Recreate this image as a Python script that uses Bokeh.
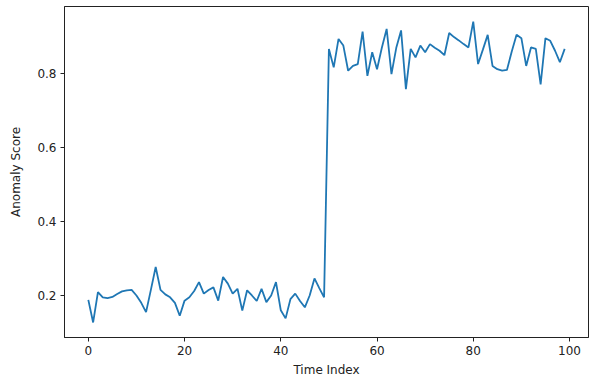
from bokeh.plotting import figure
from bokeh.models import Range1d, FixedTicker
from bokeh.embed import file_html
from bokeh.resources import INLINE

low_scores = [0.188, 0.127, 0.209, 0.195, 0.193, 0.196, 0.204, 0.211, 0.214, 0.215,
              0.200, 0.180, 0.155, 0.215, 0.277, 0.215, 0.203, 0.195, 0.180, 0.145,
              0.186, 0.195, 0.212, 0.236, 0.205, 0.215, 0.222, 0.186, 0.250, 0.232,
              0.205, 0.218, 0.159, 0.214, 0.200, 0.185, 0.218, 0.182, 0.200, 0.236,
              0.160, 0.138, 0.190, 0.205, 0.185, 0.168, 0.200, 0.246, 0.220, 0.195]
high_scores = [0.867, 0.817, 0.894, 0.876, 0.808, 0.821, 0.826, 0.914, 0.794, 0.858,
               0.812, 0.870, 0.921, 0.799, 0.870, 0.917, 0.758, 0.867, 0.844, 0.876,
               0.858, 0.880, 0.870, 0.862, 0.850, 0.910, 0.899, 0.890, 0.880, 0.871,
               0.941, 0.826, 0.865, 0.905, 0.821, 0.812, 0.808, 0.810, 0.860, 0.905,
               0.896, 0.821, 0.871, 0.867, 0.771, 0.896, 0.889, 0.862, 0.831, 0.867]
anomaly_score = low_scores + high_scores
time_index = list(range(len(anomaly_score)))

x_ticks = [0, 20, 40, 60, 80, 100]
y_ticks = [0.2, 0.4, 0.6, 0.8]

xmin, xmax = min(time_index), max(time_index)
ymin, ymax = min(anomaly_score), max(anomaly_score)
xpad = 0.05 * (xmax - xmin)
ypad = 0.05 * (ymax - ymin)

p = figure(width=590, height=380, output_backend="svg", toolbar_location=None,
           x_range=Range1d(xmin - xpad, xmax + xpad),
           y_range=Range1d(ymin - ypad, ymax + ypad),
           min_border_left=64, min_border_right=2, min_border_top=6, min_border_bottom=43)

p.line(time_index, anomaly_score, line_color="#1f77b4", line_width=1.8)

p.grid.visible = False
p.outline_line_color = "#222222"
p.outline_line_width = 1
p.background_fill_color = "white"
p.border_fill_color = "white"

p.xaxis.ticker = FixedTicker(ticks=x_ticks)
p.yaxis.ticker = FixedTicker(ticks=y_ticks)
p.xaxis.axis_label = "Time Index"
p.yaxis.axis_label = "Anomaly Score"

for ax in (p.xaxis, p.yaxis):
    ax.axis_line_color = "#222222"
    ax.major_tick_line_color = "#222222"
    ax.major_tick_out = 4
    ax.major_tick_in = 0
    ax.minor_tick_out = 0
    ax.minor_tick_in = 0
    ax.major_label_text_font = "DejaVu Sans"
    ax.major_label_text_font_size = "12px"
    ax.major_label_text_color = "#222222"
    ax.axis_label_text_font = "DejaVu Sans"
    ax.axis_label_text_font_size = "12px"
    ax.axis_label_text_font_style = "normal"
    ax.axis_label_text_color = "#222222"
    ax.major_label_standoff = 4

p.xaxis.axis_label_standoff = 5
p.yaxis.axis_label_standoff = 11
p.yaxis.major_label_orientation = "horizontal"

open("out.html", "w").write(file_html(p, INLINE))
